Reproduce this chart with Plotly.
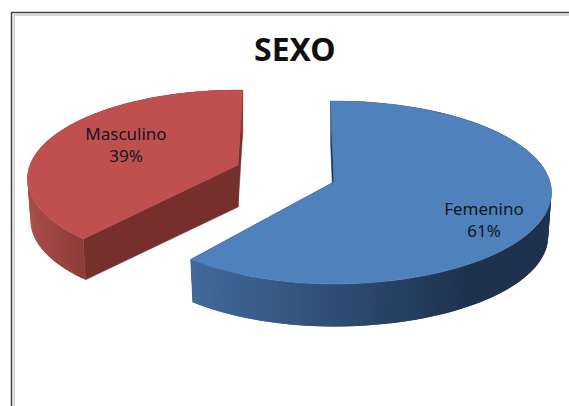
import numpy as np
import plotly.graph_objects as go

# Data
categories = ["Femenino", "Masculino"]
values = [61, 39]
title_text = "SEXO"

# Style / layout settings
W, H = 569, 406
TOP = ["#4f81bd", "#c0504d"]
CUT = ["#1f3450", "#772f2e"]
WALL_LEFT = [(66, 106, 155), (168, 78, 74)]
WALL_RIGHT = [(30, 50, 78), (138, 58, 55)]
WALL_SPAN = [(191, 470), (27, 88)]
GEOM = [
    dict(cx=334, cy=182, rx=216, rx_left=209, ry=90.3, p=0.1147, depth=44, rot=-1.0),
    dict(cx=238, cy=165, rx=208, rx_left=208, ry=86.6, p=0.155, depth=42, rot=1.5),
]
LOWER_SCALE = 0.985
LABEL_POS = [(484, 221.5), (126, 147)]
TITLE_POS = (295, 48)
FONT = "Noto Sans"


def project(g, theta_deg, lower=False):
    t = np.radians(np.asarray(theta_deg, dtype=float) + g["rot"])
    s = LOWER_SCALE if lower else 1.0
    u, v = np.sin(t), -np.cos(t)
    k = s / (1 - g["p"] * v)
    rx = np.where(u < 0, g["rx_left"], g["rx"])
    return g["cx"] + rx * u * k, g["cy"] + (g["depth"] if lower else 0) + g["ry"] * v * k


def poly(fig, x, y, color, lw=0.6):
    fig.add_trace(go.Scatter(
        x=list(x), y=list(y), mode="lines", fill="toself", fillcolor=color,
        line=dict(color=color, width=lw), hoverinfo="skip", showlegend=False,
    ))


fig = go.Figure()
total = sum(values)
start = 0.0
for i, (name, val) in enumerate(zip(categories, values)):
    end = start + 360.0 * val / total
    g = GEOM[i]
    apex_top = (g["cx"], g["cy"])
    apex_low = (g["cx"], g["cy"] + g["depth"])

    # flat cut faces
    for a in (start, end):
        xt, yt = project(g, a)
        xb, yb = project(g, a, lower=True)
        poly(fig, [apex_top[0], xt, xb, apex_low[0], apex_top[0]],
             [apex_top[1], yt, yb, apex_low[1], apex_top[1]], CUT[i])

    # curved outer wall as thin shaded strips; each strip overlaps the next to hide seams
    edges = np.linspace(start, end, 160)
    step = edges[1] - edges[0]
    for a0, a1 in zip(edges[:-1], edges[1:]):
        a2 = min(a1 + step, end)
        x0t, y0t = project(g, a0)
        x1t, y1t = project(g, a2)
        x0b, y0b = project(g, a0, lower=True)
        x1b, y1b = project(g, a2, lower=True)
        xm = project(g, (a0 + a1) / 2)[0]
        f = np.clip((xm - WALL_SPAN[i][0]) / (WALL_SPAN[i][1] - WALL_SPAN[i][0]), 0, 1)
        c = [round(l + (r - l) * f) for l, r in zip(WALL_LEFT[i], WALL_RIGHT[i])]
        poly(fig, [x0t, x1t, x1b, x0b, x0t], [y0t, y1t, y1b, y0b, y0t],
             f"rgb({c[0]},{c[1]},{c[2]})", lw=0)

    # top surface
    arc = np.linspace(start, end, 200)
    ax, ay = project(g, arc)
    poly(fig, [apex_top[0], *ax, apex_top[0]], [apex_top[1], *ay, apex_top[1]], TOP[i])

    start = end

label_text = [f"{n}<br>{v}%" for n, v in zip(categories, values)]
fig.add_trace(go.Scatter(
    x=[p[0] for p in LABEL_POS], y=[p[1] for p in LABEL_POS], mode="text", text=label_text,
    textposition="middle center", textfont=dict(family=FONT, size=17, color="#101820"),
    hoverinfo="skip", showlegend=False,
))

fig.update_layout(
    width=W, height=H, margin=dict(l=0, r=0, t=0, b=0, pad=0),
    paper_bgcolor="white", plot_bgcolor="white", showlegend=False,
    xaxis=dict(range=[0, W], visible=False, fixedrange=True),
    yaxis=dict(range=[H, 0], visible=False, fixedrange=True),
    shapes=[
        dict(type="rect", xref="x", yref="y", x0=11.5, y0=12.5, x1=W + 20, y1=H + 20,
             line=dict(color="#404040", width=1.5), layer="below"),
        dict(type="rect", xref="x", yref="y", x0=14, y0=15, x1=W + 20, y1=H + 20,
             line=dict(color="#b0b0b0", width=1), layer="below"),
    ],
    annotations=[dict(
        x=TITLE_POS[0], y=TITLE_POS[1], xref="x", yref="y", text=f"<b>{title_text}</b>", showarrow=False,
        font=dict(family=FONT, size=32, color="#111111"),
    )],
)

fig.write_html("out.html", config={"displayModeBar": False},
               post_script="document.documentElement.style.overflow='hidden';document.body.style.margin='0';document.body.style.overflow='hidden';")
